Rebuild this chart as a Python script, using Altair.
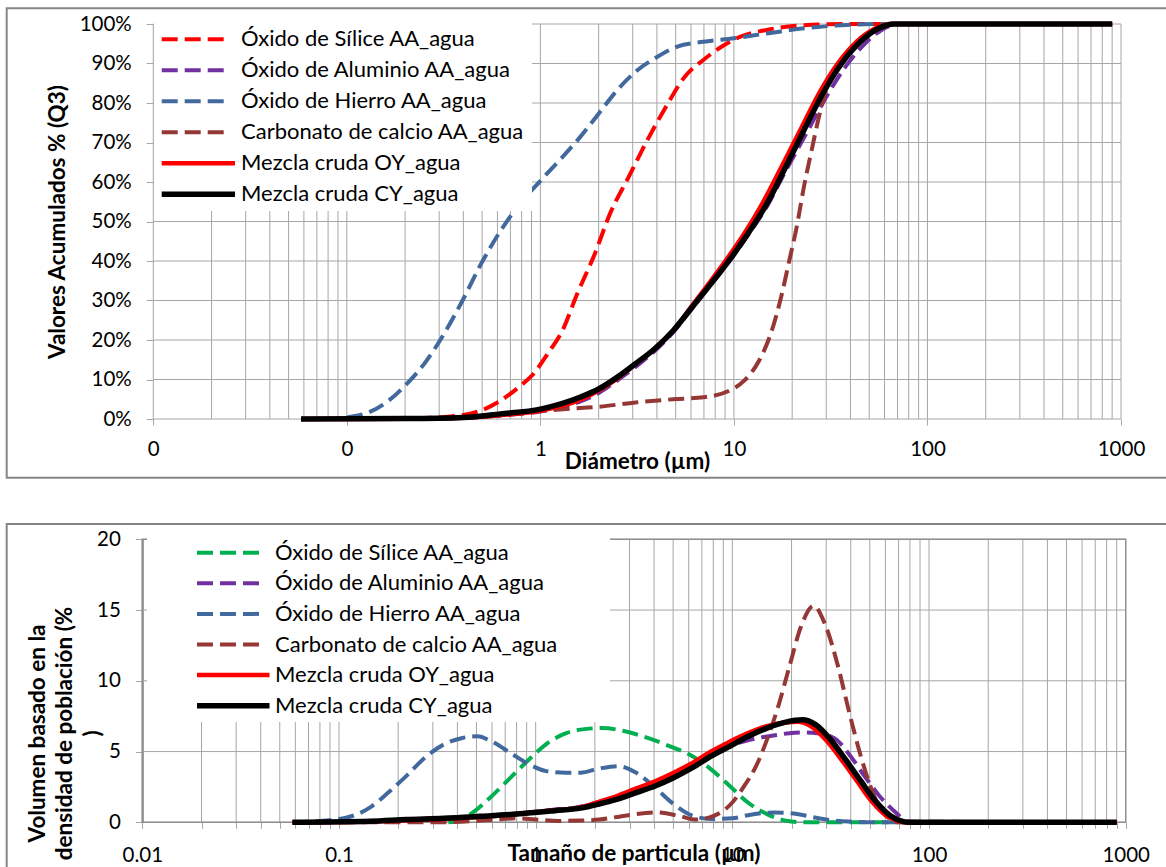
import altair as alt
import pandas as pd

W, H = 1166, 867
FONT = "Lato"
GRID = "#a6a6a6"
FRAME = "#868686"

SERIES = [
    "Óxido de Sílice AA_agua",
    "Óxido de Aluminio AA_agua",
    "Óxido de Hierro AA_agua",
    "Carbonato de calcio AA_agua",
    "Mezcla cruda OY_agua",
    "Mezcla cruda CY_agua",
]
COLORS_TOP = ["#FF0000", "#7030A0", "#41699E", "#953735", "#FF0000", "#000000"]
COLORS_BOT = ["#00B050", "#7030A0", "#41699E", "#953735", "#FF0000", "#000000"]
DASHED = [True, True, True, True, False, False]
WIDTHS = [4, 4, 4, 4, 4.5, 5.5]

# ---- cumulative volume Q3 (%) vs diameter (µm) ----
Q3_SILICE_D = [0.058, 0.2, 0.32, 0.49, 0.62, 0.77, 0.92, 1.09, 1.3, 1.55, 1.91, 2.29, 2.86, 3.57, 4.45, 5.56, 6.95, 8.67, 10.8, 14.8, 23, 36, 900]
Q3_SILICE_V = [0, 0.1, 0.5, 2.1, 4.6, 8.0, 11.4, 16.5, 22.4, 31.7, 41.8, 52.0, 61.3, 70.6, 79.0, 86.6, 90.9, 94.3, 96.8, 98.5, 99.7, 100, 100]

Q3_ALUMINIO_D = [0.058, 0.2, 0.4, 0.62, 1.0, 1.6, 2.0, 2.5, 3.1, 3.9, 4.86, 6.08, 7.6, 10, 11.8, 14.8, 18.5, 23.5, 29.8, 37.5, 47, 58, 72, 900]
Q3_ALUMINIO_V = [0, 0.05, 0.3, 0.9, 1.9, 4.4, 6.6, 9.8, 13.2, 17.2, 22.0, 28.0, 34.0, 41.5, 46.5, 53.8, 62.8, 72.0, 81.3, 89.0, 94.8, 98.5, 100, 100]

Q3_HIERRO_D = [0.058, 0.09, 0.1, 0.13, 0.164, 0.204, 0.255, 0.318, 0.396, 0.494, 0.616, 0.77, 1.0, 1.3, 1.6, 2.0, 2.5, 3.1, 3.9, 5.1, 6.95, 10, 14.8, 23, 36, 56, 900]
Q3_HIERRO_V = [0, 0, 0.4, 1.7, 4.6, 8.9, 14.4, 21.6, 30.0, 39.3, 47.3, 54.0, 60.3, 66.3, 71.3, 77.3, 83.3, 87.9, 91.3, 94.3, 95.5, 96.4, 97.6, 98.9, 99.7, 100, 100]

Q3_CARBONATO_D = [0.058, 0.3, 0.6, 1.0, 1.6, 2.0, 3.1, 4.86, 6.95, 9.5, 11.3, 13.5, 15.5, 17.7, 19.3, 21.1, 23, 25.2, 27.5, 30, 34.4, 39.3, 49, 64, 900]
Q3_CARBONATO_V = [0, 0.1, 0.8, 2.0, 2.8, 3.1, 4.2, 5.0, 5.5, 7.2, 9.7, 14.8, 21.6, 31.7, 40.0, 48.6, 58.8, 68.0, 76.5, 83.3, 89.2, 93.4, 97.6, 100, 100]

Q3_OY_D = [0.058, 0.2, 0.4, 0.62, 1.0, 1.6, 2.0, 2.5, 3.1, 3.9, 4.86, 6.0, 7.4, 9.6, 11.3, 14.0, 17.6, 22.0, 27.5, 34.4, 43, 54, 65, 900]
Q3_OY_V = [0, 0.05, 0.3, 1.0, 2.1, 4.8, 7.2, 10.3, 13.9, 17.8, 22.4, 28.3, 34.2, 41.8, 46.9, 54.5, 63.8, 73.1, 82.4, 90.0, 95.5, 98.9, 100, 100]

Q3_CY_D = [0.058, 0.2, 0.4, 0.62, 1.0, 1.6, 2.0, 2.5, 3.1, 3.9, 4.86, 6.08, 7.6, 10, 11.8, 14.8, 18.5, 23, 28.8, 36, 45, 56, 67, 900]
Q3_CY_V = [0, 0.1, 0.4, 1.3, 2.5, 5.5, 7.6, 10.6, 14.0, 17.8, 22.4, 28.3, 34.2, 41.8, 46.9, 54.5, 63.8, 73.1, 82.4, 90.0, 95.5, 98.9, 100, 100]

# ---- volume density q3 (%) vs particle size (µm) ----
Q_SILICE_D = [0.36, 0.39, 0.48, 0.6, 0.745, 0.925, 1.15, 1.43, 1.69, 2.19, 2.85, 3.71, 4.82, 6.27, 7.8, 9.7, 12, 15, 18.7, 23, 900]
Q_SILICE_V = [0, 0.05, 0.7, 1.87, 3.16, 4.44, 5.6, 6.3, 6.55, 6.66, 6.43, 5.96, 5.37, 4.67, 3.74, 2.57, 1.4, 0.58, 0.12, 0, 0]

Q_ALUMINIO_D = [0.058, 0.144, 0.221, 0.341, 0.52, 0.8, 1.25, 1.69, 2.1, 2.61, 3.25, 4.05, 5.03, 6.27, 7.8, 9.7, 12, 14, 16.5, 19.5, 23, 27, 33, 39.3, 46.8, 55.7, 66.4, 79, 900]
Q_ALUMINIO_V = [0, 0.05, 0.15, 0.25, 0.4, 0.6, 0.9, 1.1, 1.45, 1.85, 2.3, 2.8, 3.4, 4.05, 4.8, 5.4, 5.8, 6.0, 6.15, 6.3, 6.35, 6.3, 5.95, 4.8, 3.3, 1.9, 0.8, 0.05, 0]

Q_HIERRO_D = [0.058, 0.1, 0.144, 0.178, 0.221, 0.275, 0.341, 0.424, 0.505, 0.6, 0.745, 0.925, 1.15, 1.43, 1.69, 2.1, 2.61, 3.25, 4.05, 5.03, 6.27, 7.8, 10, 12, 16.4, 21.3, 28.9, 39, 56, 900]
Q_HIERRO_V = [0, 0.23, 1.05, 2.1, 3.3, 4.6, 5.5, 5.96, 6.08, 5.7, 4.9, 4.1, 3.6, 3.5, 3.5, 3.8, 3.97, 3.5, 2.45, 1.29, 0.47, 0.23, 0.28, 0.5, 0.7, 0.58, 0.23, 0.05, 0, 0]

Q_CARBONATO_D = [0.058, 0.3, 0.5, 0.65, 0.8, 1.0, 1.3, 1.69, 2.1, 2.85, 4.05, 5.3, 6.5, 8.1, 10, 11.5, 13.2, 15, 17.1, 19.5, 22.3, 25.9, 29.6, 34.5, 39.4, 45, 51, 58, 63.8, 69.5, 900]
Q_CARBONATO_V = [0, 0, 0.1, 0.22, 0.28, 0.2, 0.1, 0.12, 0.19, 0.47, 0.7, 0.47, 0.19, 0.47, 1.4, 2.57, 3.97, 5.84, 8.18, 11.0, 13.8, 15.3, 14.0, 11.0, 7.7, 4.67, 2.34, 0.7, 0.23, 0, 0]

Q_OY_D = [0.058, 0.144, 0.221, 0.341, 0.52, 0.8, 1.25, 1.69, 2.1, 2.61, 3.25, 4.05, 5.03, 6.27, 7.8, 9.7, 12, 15, 18.7, 21.6, 25, 30, 36, 43, 51, 61, 72, 76, 900]
Q_OY_V = [0, 0.06, 0.15, 0.24, 0.38, 0.58, 0.85, 1.05, 1.45, 1.87, 2.4, 2.9, 3.5, 4.2, 5.0, 5.7, 6.3, 6.8, 7.05, 7.1, 6.8, 5.8, 4.4, 2.92, 1.5, 0.45, 0.05, 0, 0]

Q_CY_D = [0.058, 0.144, 0.221, 0.341, 0.52, 0.8, 1.25, 1.69, 2.1, 2.61, 3.25, 4.05, 5.03, 6.27, 7.8, 9.7, 12, 15, 18.7, 22.7, 26.5, 31.6, 37.6, 45, 53.3, 63.6, 74.2, 78, 900]
Q_CY_V = [0, 0.07, 0.19, 0.28, 0.42, 0.58, 0.82, 1.0, 1.29, 1.64, 2.1, 2.57, 3.15, 3.86, 4.67, 5.37, 6.07, 6.66, 7.08, 7.24, 6.9, 5.84, 4.44, 2.92, 1.52, 0.47, 0.05, 0, 0]

TOP_DATA = [(Q3_SILICE_D, Q3_SILICE_V), (Q3_ALUMINIO_D, Q3_ALUMINIO_V), (Q3_HIERRO_D, Q3_HIERRO_V),
            (Q3_CARBONATO_D, Q3_CARBONATO_V), (Q3_OY_D, Q3_OY_V), (Q3_CY_D, Q3_CY_V)]
BOT_DATA = [(Q_SILICE_D, Q_SILICE_V), (Q_ALUMINIO_D, Q_ALUMINIO_V), (Q_HIERRO_D, Q_HIERRO_V),
            (Q_CARBONATO_D, Q_CARBONATO_V), (Q_OY_D, Q_OY_V), (Q_CY_D, Q_CY_V)]

DECADES = [0.01, 0.1, 1, 10, 100, 1000]
LOG_GRID = sorted({round(m * 10.0 ** e, 6) for e in range(-2, 3) for m in range(1, 10)} | {1000.0})

ONE = pd.DataFrame({"k": [0]})


def label_style(**kw):
    base = dict(labelFont=FONT, labelFontSize=20.5, labelColor="black",
                titleFont=FONT, titleFontSize=22.5, titleFontWeight="bold", titleColor="black",
                titleAlign="center", titleBaseline="middle", grid=False)
    base.update(kw)
    return alt.Axis(**base)


def build_panel(p):
    def xs():
        return alt.Scale(type="log", domain=[0.01, 1000], range=p["xr"], nice=False)

    def ys():
        return alt.Scale(domain=p["yd"], range=p["yr"], nice=False, zero=False)

    layers = []
    # outer chart frame
    fx0, fx1, fy0, fy1 = p["frame"]
    layers.append(alt.Chart(ONE).mark_rect(fillOpacity=0, stroke=FRAME, strokeWidth=2).encode(
        x=alt.value(fx0), x2=alt.value(fx1), y=alt.value(fy0), y2=alt.value(fy1)))

    # vertical log grid, carrying the x axis
    gx = pd.DataFrame({"d": LOG_GRID, "lo": p["yd"][0], "hi": p["yd"][1]})
    layers.append(alt.Chart(gx).mark_rule(color=GRID, strokeWidth=1).encode(
        x=alt.X("d:Q", scale=xs(), axis=p["xaxis"]),
        y=alt.Y("lo:Q", scale=ys(), axis=None), y2="hi"))

    # horizontal grid, carrying the y axis
    gy = pd.DataFrame({"v": p["yticks"], "lo": 0.01, "hi": 1000})
    layers.append(alt.Chart(gy).mark_rule(color=GRID, strokeWidth=1).encode(
        y=alt.Y("v:Q", scale=ys(), axis=p["yaxis"]),
        x=alt.X("lo:Q", scale=xs(), axis=None), x2="hi"))

    if p.get("border"):
        bd = pd.DataFrame({"x0": [0.01], "x1": [1000], "y0": [p["yd"][0]], "y1": [p["yd"][1]]})
        layers.append(alt.Chart(bd).mark_rect(fillOpacity=0, stroke="#8f8f8f", strokeWidth=1.4).encode(
            x=alt.X("x0:Q", scale=xs(), axis=None), x2="x1",
            y=alt.Y("y0:Q", scale=ys(), axis=None), y2="y1"))

    # curves
    for i, (d, v) in enumerate(p["data"]):
        df = pd.DataFrame({"d": d, "v": v})
        mk = dict(color=p["colors"][i], strokeWidth=WIDTHS[i], interpolate="monotone",
                  strokeJoin="round")
        if DASHED[i]:
            mk["strokeDash"] = [16, 7]
        layers.append(alt.Chart(df).mark_line(**mk).encode(
            x=alt.X("d:Q", scale=xs(), axis=None),
            y=alt.Y("v:Q", scale=ys(), axis=None)))

    # legend box
    lx0, lx1, ly0, ly1 = p["legbox"]
    layers.append(alt.Chart(ONE).mark_rect(color="white").encode(
        x=alt.value(lx0), x2=alt.value(lx1), y=alt.value(ly0), y2=alt.value(ly1)))
    sx0, sx1d, sx1s, tx, row0, step = p["leg"]
    for i in range(len(SERIES)):
        mk = dict(color=p["colors"][i], strokeWidth=WIDTHS[i])
        if DASHED[i]:
            mk["strokeDash"] = [16, 7]
        layers.append(alt.Chart(ONE).mark_rule(**mk).encode(
            x=alt.value(sx0), x2=alt.value(sx1d if DASHED[i] else sx1s),
            y=alt.value(row0 + i * step)))
    names = pd.DataFrame({"name": SERIES, "idx": list(range(len(SERIES)))})
    layers.append(alt.Chart(names).transform_calculate(
        ly=f"{row0} + datum.idx * {step}").mark_text(
        font=FONT, fontSize=22, align="left", baseline="middle", color="black").encode(
        x=alt.value(tx), y=alt.Y("ly:Q", scale=None), text="name:N"))
    return layers


# upper panel: cumulative distribution
TOP_X0, TOP_X1, TOP_Y0, TOP_Y1 = 153.3, 1121.0, 419.0, 24.0
top = dict(
    xr=[TOP_X0, TOP_X1], yd=[0, 100], yr=[TOP_Y0, TOP_Y1],
    yticks=list(range(0, 101, 10)),
    frame=(6.7, 1175, 8.3, 477.7),
    data=TOP_DATA, colors=COLORS_TOP,
    legbox=(154, 532, 19, 211),
    leg=(161.7, 227.5, 235, 241, 39.3, 31),
    xaxis=label_style(orient="bottom", offset=TOP_Y0 - H, values=DECADES,
                      labelExpr="datum.value < 1 ? '0' : format(datum.value, 'd')",
                      domain=False, ticks=True, tickSize=6, tickColor=GRID, tickWidth=1,
                      labelPadding=24, labelBaseline="middle", labelFlush=False, labelOverlap=False,
                      title="Diámetro (µm)", titleX=637, titleY=42),
    yaxis=label_style(orient="left", offset=-TOP_X0, values=list(range(0, 101, 10)),
                      labelExpr="datum.value + '%'", domain=False, tickSize=7, tickColor=GRID,
                      labelPadding=15, labelOverlap=False,
                      title="Valores Acumulados % (Q3)", titleAngle=270,
                      titleX=57.5 - TOP_X0, titleY=221.5),
)

# lower panel: density distribution
BOT_X0, BOT_X1, BOT_Y0, BOT_Y1 = 142.3, 1125.7, 822.3, 539.3
bot = dict(
    xr=[BOT_X0, BOT_X1], yd=[0, 20], yr=[BOT_Y0, BOT_Y1],
    yticks=[0, 5, 10, 15, 20],
    frame=(6.7, 1175, 524, 900),
    data=BOT_DATA, colors=COLORS_BOT, border=True,
    legbox=(147, 610, 535, 722),
    leg=(197, 264, 269.5, 275, 552.7, 30.6),
    xaxis=label_style(orient="bottom", offset=BOT_Y0 - H, values=LOG_GRID,
                      labelExpr="abs(log(datum.value)/LN10 - round(log(datum.value)/LN10)) < 1e-6 ? "
                                "(datum.value < 1 ? format(datum.value, '.2~f') : format(datum.value, 'd')) : ''",
                      domain=False, ticks=True, tickSize=6, tickColor=GRID, tickWidth=1,
                      labelPadding=26.7, labelBaseline="middle", labelFlush=False, labelOverlap=False,
                      title="Tamaño de particula (µm)", titleX=633.5, titleY=31),
    yaxis=label_style(orient="left", offset=-BOT_X0, values=[0, 5, 10, 15, 20],
                      domain=True, domainColor=FRAME, domainWidth=2,
                      tickSize=7, tickColor=GRID, labelPadding=15, labelOverlap=False,
                      title=["Volumen basado en la", "densidad de población  (%", ")"],
                      titleAngle=270, titleLineHeight=27.5,
                      titleX=37 - BOT_X0, titleY=733),
)

layers = build_panel(top) + build_panel(bot)

chart = (
    alt.layer(*layers)
    .resolve_scale(x="independent", y="independent")
    .resolve_axis(x="independent", y="independent")
    .properties(width=W, height=H, padding=0, autosize=alt.AutoSizeParams(type="none"),
                background="white")
    .configure_view(strokeWidth=0)
)

chart.save("out.html", embed_options={"renderer": "svg", "actions": False})
